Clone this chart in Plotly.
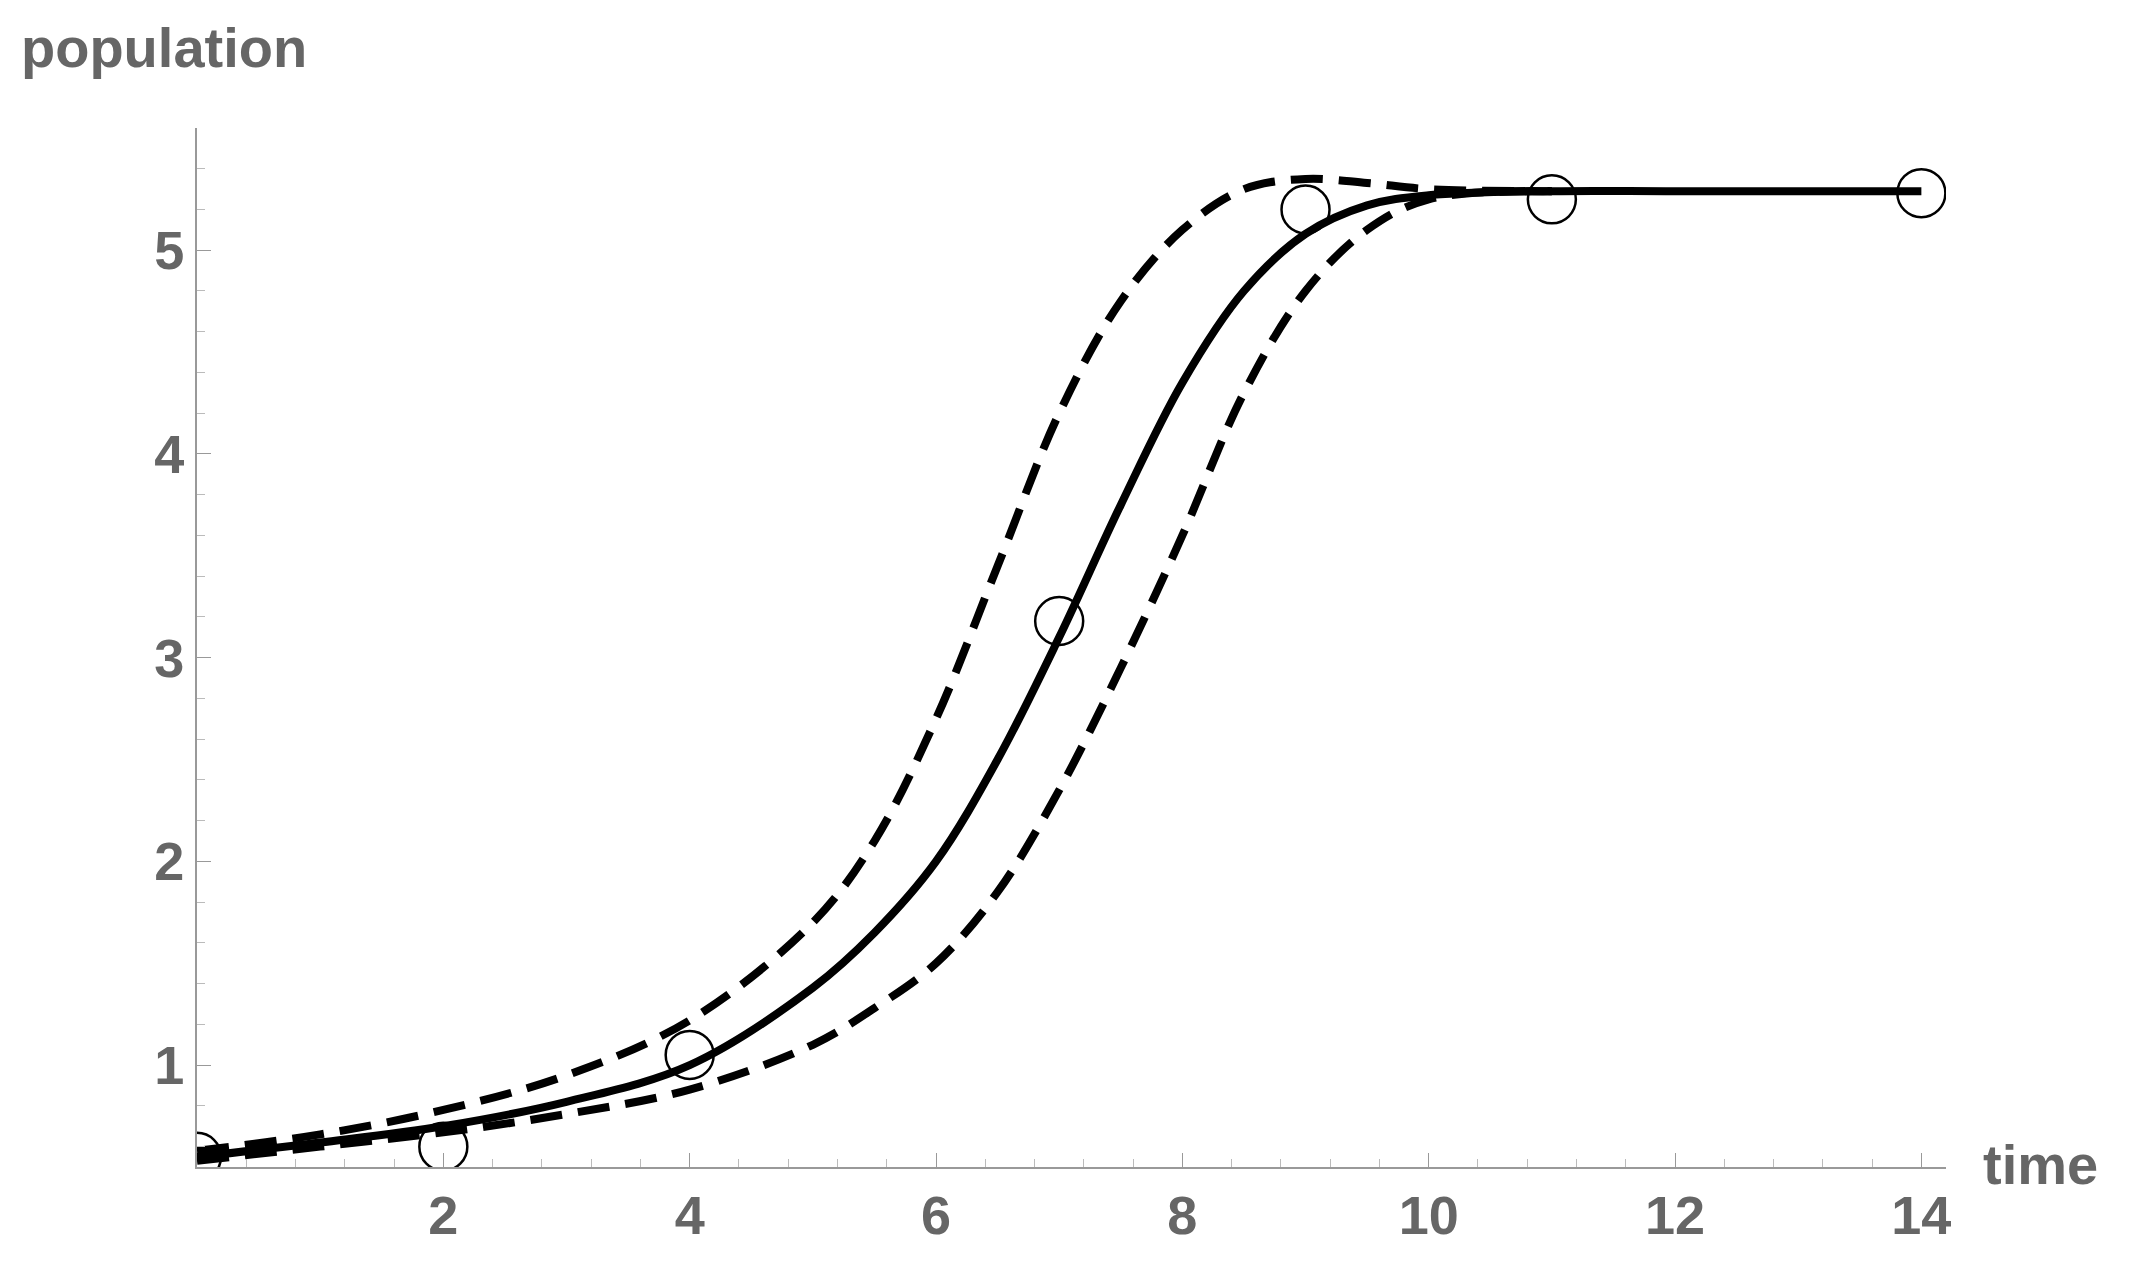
import plotly.graph_objects as go

# observed data
t_obs = [0, 2, 4, 7, 9, 11, 14]
p_obs = [0.55, 0.6, 1.05, 3.18, 5.2, 5.25, 5.28]

# fitted curve
t_fit = [0, 1, 2, 3, 4, 5, 5.5, 6, 6.5, 7, 7.5, 8, 8.5, 9, 9.5, 10, 11, 12, 14]
p_fit = [0.55, 0.62, 0.7, 0.82, 1.0, 1.38, 1.65, 2.0, 2.5, 3.1, 3.75, 4.35, 4.8, 5.08, 5.22, 5.27, 5.29, 5.29, 5.29]

# upper band
t_up = [0, 1, 2, 3, 4, 5, 5.5, 6, 6.5, 7, 7.5, 8, 8.5, 9, 9.5, 10, 11]
p_up = [0.58, 0.66, 0.78, 0.95, 1.22, 1.7, 2.1, 2.7, 3.45, 4.2, 4.75, 5.1, 5.3, 5.35, 5.33, 5.3, 5.29]

# lower band
t_lo = [0, 1, 2, 3, 4, 5, 5.5, 6, 6.5, 7, 7.5, 8, 8.5, 9, 9.5, 10, 11]
p_lo = [0.53, 0.6, 0.67, 0.76, 0.88, 1.1, 1.28, 1.5, 1.85, 2.35, 2.95, 3.6, 4.3, 4.8, 5.1, 5.25, 5.29]

dash = '32px,16px'
fig = go.Figure()
fig.add_trace(go.Scatter(x=t_up, y=p_up, mode='lines', line=dict(color='black', width=8, dash=dash, shape='spline')))
fig.add_trace(go.Scatter(x=t_lo, y=p_lo, mode='lines', line=dict(color='black', width=8, dash=dash, shape='spline')))
fig.add_trace(go.Scatter(x=t_fit, y=p_fit, mode='lines', line=dict(color='black', width=8, shape='spline')))
fig.add_trace(go.Scatter(x=t_obs, y=p_obs, mode='markers',
                         marker=dict(size=48, symbol='circle-open', color='black', line=dict(width=2.5))))

tickfont = dict(family='Liberation Sans', size=54, color='#666666', weight='bold')
fig.update_layout(
    width=2143, height=1264, showlegend=False,
    plot_bgcolor='white', paper_bgcolor='white',
    margin=dict(l=189, r=205, t=120, b=105),
    xaxis=dict(range=[0, 14.2], tickvals=[2, 4, 6, 8, 10, 12, 14], showgrid=False, zeroline=False,
               showline=True, linecolor='#999999', linewidth=2, ticks='inside', ticklen=14,
               tickcolor='#999999', tickfont=tickfont,
               minor=dict(dtick=0.4, ticks='inside', ticklen=8, tickcolor='#bbbbbb')),
    yaxis=dict(range=[0.5, 5.6], tickvals=[1, 2, 3, 4, 5], showgrid=False, zeroline=False,
               showline=True, linecolor='#999999', linewidth=2, ticks='inside', ticklen=14,
               tickcolor='#999999', tickfont=tickfont,
               minor=dict(dtick=0.2, ticks='inside', ticklen=8, tickcolor='#bbbbbb')),
    annotations=[
        dict(text='population', xref='paper', yref='paper', x=-0.102, y=1.11,
             xanchor='left', yanchor='top', showarrow=False,
             font=dict(family='Liberation Sans', size=56, color='#666666', weight='bold')),
        dict(text='time', xref='paper', yref='paper', x=1.02, y=-0.03,
             xanchor='left', yanchor='bottom', showarrow=False,
             font=dict(family='Liberation Sans', size=56, color='#666666', weight='bold')),
    ],
)
fig.write_html("out.html")
